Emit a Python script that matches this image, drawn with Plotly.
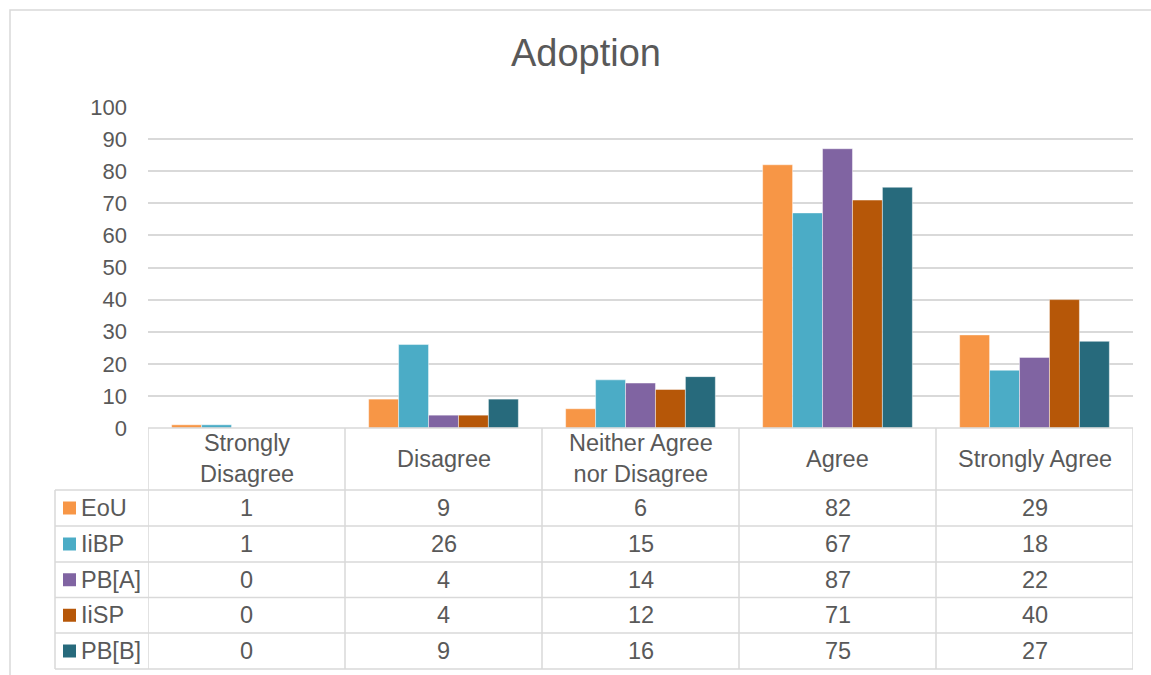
import plotly.graph_objects as go

# Survey responses on adoption, per construct
categories = ["Strongly Disagree", "Disagree", "Neither Agree nor Disagree", "Agree", "Strongly Agree"]
header_labels = ["Strongly<br>Disagree", "Disagree", "Neither Agree<br>nor Disagree", "Agree", "Strongly Agree"]
series_names = ["EoU", "IiBP", "PB[A]", "IiSP", "PB[B]"]
series_labels = ["EoU", "IiBP", "PB[A]", "IiSP", "PB[B]"]
eou = [1, 9, 6, 82, 29]
iibp = [1, 26, 15, 67, 18]
pba = [0, 4, 14, 87, 22]
iisp = [0, 4, 12, 71, 40]
pbb = [0, 9, 16, 75, 27]
series_values = [eou, iibp, pba, iisp, pbb]
colors = ["#F79646", "#4BACC6", "#8064A2", "#B65708", "#276A7C"]
y_ticks = list(range(0, 101, 10))

W, H = 1151, 675
PL, PR, PT, PB = 148, 1133, 107, 428   # plot area in pixels
FONT = "Liberation Sans, Arial, sans-serif"
TXT = "#595959"
GRID = "#D9D9D9"
TABLE_FONT = 23.5


def px_x(px):
    return (px - PL) / (PR - PL)


def px_y(py):
    return (PB - py) / (PB - PT)


fig = go.Figure()
for name, vals, col in zip(series_names, series_values, colors):
    fig.add_trace(go.Bar(
        x=categories, y=vals, name=name,
        marker=dict(color=col, line=dict(color="rgba(255,255,255,0.6)", width=0.75)),
        showlegend=False,
    ))

shapes = []
annotations = []

# outer chart border
shapes.append(dict(type="rect", xref="paper", yref="paper",
                   x0=px_x(10), x1=px_x(1162), y0=px_y(10), y1=px_y(690),
                   line=dict(color="#D9D9D9", width=1.5), layer="below"))

# data table: row boundaries (pixels)
header_top, header_bot = 428, 490
row_lines = [490, 526, 562, 597.5, 633, 669]
legend_left = 55
line_style = dict(color=GRID, width=1.5)

# top edge of the table (also the category baseline)
shapes.append(dict(type="line", xref="paper", yref="paper",
                   x0=0, x1=1, y0=px_y(header_top), y1=px_y(header_top), line=line_style))
for ry in row_lines:
    shapes.append(dict(type="line", xref="paper", yref="paper",
                       x0=px_x(legend_left), x1=1, y0=px_y(ry), y1=px_y(ry), line=line_style))
# column separators at category boundaries
for k in range(len(categories) + 1):
    shapes.append(dict(type="line", xref="x", yref="paper",
                       x0=k - 0.5, x1=k - 0.5, y0=px_y(header_top), y1=px_y(row_lines[-1]),
                       line=line_style))
# left edge of legend column
shapes.append(dict(type="line", xref="paper", yref="paper",
                   x0=px_x(legend_left), x1=px_x(legend_left),
                   y0=px_y(row_lines[0]), y1=px_y(row_lines[-1]), line=line_style))

# header cells
for i, lab in enumerate(header_labels):
    annotations.append(dict(xref="x", yref="paper", x=i, y=px_y((header_top + header_bot) / 2),
                            text=lab, showarrow=False, xanchor="center", yanchor="middle",
                            font=dict(family=FONT, size=TABLE_FONT, color=TXT)))

# value rows with legend keys
for r, (lab, vals, col) in enumerate(zip(series_labels, series_values, colors)):
    yc = (row_lines[r] + row_lines[r + 1]) / 2
    shapes.append(dict(type="rect", xref="paper", yref="paper",
                       x0=px_x(63), x1=px_x(76), y0=px_y(yc - 6.5), y1=px_y(yc + 6.5),
                       fillcolor=col, line=dict(width=0)))
    annotations.append(dict(xref="paper", yref="paper", x=px_x(79), y=px_y(yc),
                            text=lab, showarrow=False, xanchor="left", yanchor="middle",
                            font=dict(family=FONT, size=TABLE_FONT, color=TXT)))
    for i, v in enumerate(vals):
        annotations.append(dict(xref="x", yref="paper", x=i, y=px_y(yc),
                                text=str(v), showarrow=False, xanchor="center", yanchor="middle",
                                font=dict(family=FONT, size=TABLE_FONT, color=TXT)))

fig.update_layout(
    width=W, height=H,
    margin=dict(l=PL, r=W - PR, t=PT, b=H - PB),
    paper_bgcolor="white", plot_bgcolor="white",
    barmode="group", bargap=0.24, bargroupgap=0,
    title=dict(text="Adoption", xref="container", yref="container",
               x=586 / W, y=1 - 53 / H, xanchor="center", yanchor="middle",
               font=dict(family=FONT, size=38, color=TXT)),
    xaxis=dict(showticklabels=False, showgrid=False, zeroline=False, showline=False,
               range=[-0.5, 4.5]),
    yaxis=dict(range=[0, 100], tickvals=y_ticks, showgrid=True, gridcolor=GRID, gridwidth=1.5,
               zeroline=False, showline=False, ticklabelstandoff=20,
               tickfont=dict(family=FONT, size=22, color=TXT)),
    shapes=shapes, annotations=annotations,
)

fig.write_html("out.html")
